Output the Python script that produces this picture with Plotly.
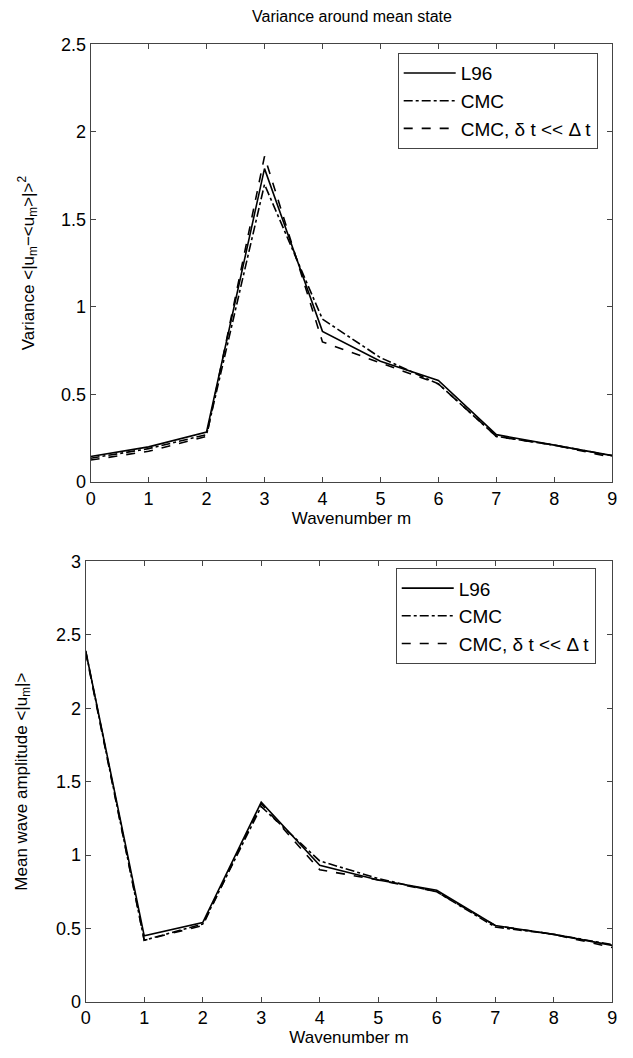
import plotly.graph_objects as go

wavenumber = [0, 1, 2, 3, 4, 5, 6, 7, 8, 9]

# Top panel: variance around mean state
var_l96 = [0.145, 0.20, 0.285, 1.79, 0.86, 0.69, 0.58, 0.27, 0.21, 0.15]
var_cmc = [0.135, 0.19, 0.27, 1.70, 0.93, 0.71, 0.56, 0.26, 0.21, 0.15]
var_cmc_fine = [0.125, 0.175, 0.26, 1.86, 0.80, 0.68, 0.56, 0.26, 0.21, 0.14]

# Bottom panel: mean wave amplitude
amp_l96 = [2.39, 0.45, 0.54, 1.36, 0.93, 0.83, 0.76, 0.52, 0.46, 0.385]
amp_cmc = [2.39, 0.42, 0.53, 1.33, 0.96, 0.84, 0.75, 0.51, 0.46, 0.39]
amp_cmc_fine = [2.38, 0.42, 0.52, 1.35, 0.90, 0.83, 0.75, 0.52, 0.46, 0.37]

names = ["L96", "CMC", "CMC, δ t &lt;&lt; Δ t"]
dashes = ["solid", "dashdot", "dash"]

x_ticks = [0, 1, 2, 3, 4, 5, 6, 7, 8, 9]
y_ticks_top = [0, 0.5, 1, 1.5, 2, 2.5]
y_ticks_bot = [0, 0.5, 1, 1.5, 2, 2.5, 3]

FONT = "Liberation Sans, Arial, sans-serif"

fig = go.Figure()

for ys, nm, ds in zip([var_l96, var_cmc, var_cmc_fine], names, dashes):
    fig.add_trace(go.Scatter(x=wavenumber, y=ys, mode="lines", name=nm,
                             line=dict(color="black", width=1.6, dash=ds),
                             xaxis="x", yaxis="y", legend="legend"))
for ys, nm, ds in zip([amp_l96, amp_cmc, amp_cmc_fine], names, dashes):
    fig.add_trace(go.Scatter(x=wavenumber, y=ys, mode="lines", name=nm,
                             line=dict(color="black", width=1.6, dash=ds),
                             xaxis="x2", yaxis="y2", legend="legend2"))

W, H = 633, 1058

def px_x(p):
    return p / W

def px_y(p):
    return 1 - p / H

axis_common = dict(
    showline=True, linecolor="#444", linewidth=1, mirror="ticks",
    ticks="inside", ticklen=5, tickcolor="#444", showgrid=False, zeroline=False,
    tickfont=dict(family=FONT, size=18, color="black"),
)

fig.update_layout(
    width=W, height=H,
    margin=dict(l=0, r=0, t=0, b=0),
    paper_bgcolor="white", plot_bgcolor="white",
    font=dict(family=FONT, size=17, color="black"),
    title=dict(text="Variance around mean state", x=px_x(352), xanchor="center",
               y=px_y(16), yanchor="middle", font=dict(family=FONT, size=16)),
    xaxis=dict(domain=[px_x(87), px_x(617)], range=[0, 9], tickvals=x_ticks,
               anchor="y",
               title=dict(text="Wavenumber m", standoff=1, font=dict(size=17)),
               **axis_common),
    yaxis=dict(domain=[px_y(481), px_y(35)], range=[0, 2.5], tickvals=y_ticks_top,
               anchor="x",
               title=dict(text="Variance &lt;|u<sub>m</sub>−&lt;u<sub>m</sub>&gt;|&gt;<sup>2</sup>",
                          standoff=22, font=dict(size=17)),
               **axis_common),
    xaxis2=dict(domain=[px_x(82), px_x(617)], range=[0, 9], tickvals=x_ticks,
                anchor="y2",
                title=dict(text="Wavenumber m", standoff=1, font=dict(size=17)),
                **axis_common),
    yaxis2=dict(domain=[px_y(1011), px_y(562)], range=[0, 3], tickvals=y_ticks_bot,
                anchor="x2",
                title=dict(text="Mean wave amplitude &lt;|u<sub>m</sub>|&gt;",
                           standoff=24, font=dict(size=17)),
                **axis_common),
    legend=dict(x=px_x(399), y=px_y(44), xanchor="left", yanchor="top",
                bordercolor="#444", borderwidth=1, bgcolor="white",
                font=dict(family=FONT, size=19), tracegroupgap=0,
                itemwidth=52),
    legend2=dict(x=px_x(397), y=px_y(569), xanchor="left", yanchor="top",
                 bordercolor="#444", borderwidth=1, bgcolor="white",
                 font=dict(family=FONT, size=19), tracegroupgap=0,
                 itemwidth=52),
)

fig.write_html("out.html")
